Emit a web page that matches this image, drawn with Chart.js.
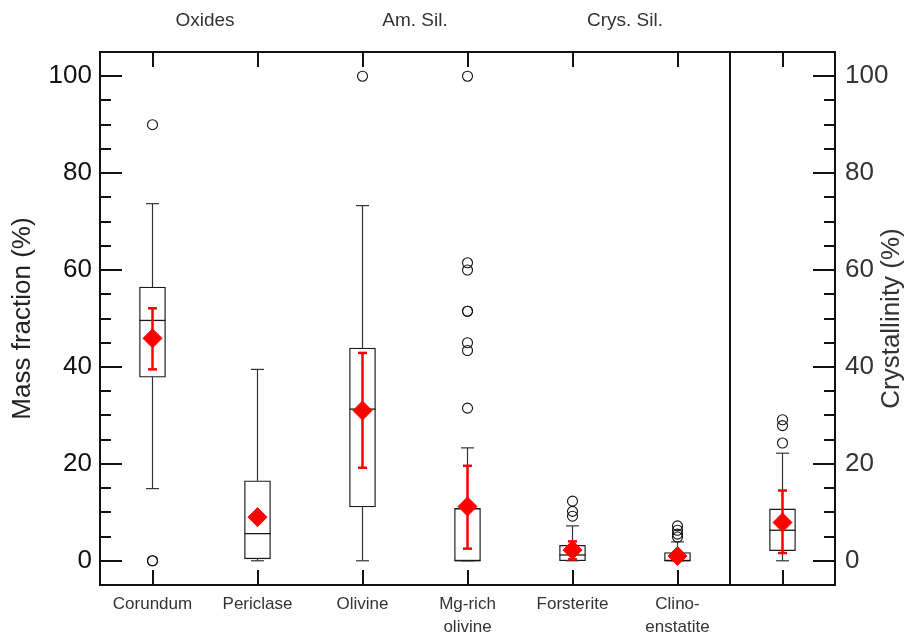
<!DOCTYPE html>
<html>
<head>
<meta charset="utf-8">
<title>Mass fraction and crystallinity</title>
<script src="https://cdn.jsdelivr.net/npm/chart.js@4"></script>
<style>
  html, body { margin: 0; padding: 0; background: #ffffff; }
  #wrap { width: 909px; height: 642px; }
</style>
</head>
<body>
<div id="wrap"><canvas id="chart" width="909" height="642"></canvas></div>
<script>
// Dust species (last slot is the crystallinity box, read on the right axis)
const categories = [['Corundum'], ['Periclase'], ['Olivine'], ['Mg-rich', 'olivine'], ['Forsterite'], ['Clino-', 'enstatite'], ['']];
const groupLabels = ['Oxides', 'Am. Sil.', 'Crys. Sil.'];
const groupCenters = [0.5, 2.5, 4.5];
const dividerAt = 5.5;

// Box-and-whisker statistics (%)
const whiskerLow  = [14.9, 0.0, 0.0, 0.0, 0.0, 0.0, 0.0];
const boxLow      = [37.9, 0.4, 11.1, 0.0, 0.0, 0.0, 2.1];
const median      = [49.6, 5.6, 31.3, 0.0, 1.2, 0.0, 6.3];
const boxHigh     = [56.5, 16.5, 43.9, 10.8, 3.2, 1.7, 10.7];
const whiskerHigh = [73.7, 39.5, 73.3, 23.3, 7.2, 3.9, 22.2];

// Mean and its uncertainty (%)
const mean    = [45.9, 9.0, 31.0, 11.2, 2.2, 1.0, 7.9];
const errLow  = [39.5, null, 19.2, 2.5, 0.3, null, 1.6];
const errHigh = [52.1, null, 42.9, 19.6, 4.0, null, 14.5];

// Outlying samples (%)
const outliers = [
  [90.0, 0.0, 0.0],
  [],
  [100.0],
  [100.0, 61.5, 60.0, 51.5, 51.5, 45.0, 43.4, 31.5],
  [12.3, 10.2, 9.2],
  [7.2, 6.3, 5.5, 4.9],
  [29.1, 27.9, 24.3]
];

const yTicks = [0, 20, 40, 60, 80, 100];
const minorStep = 5;

const FONT = "'Liberation Sans', Arial, Helvetica, sans-serif";
const RED = '#ff0000';

const slots = categories.map((_, i) => i);
const points = arr => arr.map((v, i) => (v === null ? null : { x: i, y: v })).filter(Boolean);
const spans = (lo, hi) => lo.map((v, i) => (v === null || hi[i] === null ? null : { x: i, y: [v, hi[i]] })).filter(Boolean);
const outlierPoints = outliers.flatMap((list, i) => list.map(v => ({ x: i, y: v })));

// Frame, divider, inward tick marks, group headings and axis titles
const framePlugin = {
  id: 'frame',
  afterDraw(chart) {
    const { ctx, chartArea: a, scales: { x, y } } = chart;
    ctx.save();
    ctx.strokeStyle = '#111';
    ctx.lineWidth = 2;
    ctx.lineCap = 'butt';
    ctx.strokeRect(a.left, a.top, a.right - a.left, a.bottom - a.top);

    const xd = Math.round(x.getPixelForValue(dividerAt));
    ctx.beginPath();
    ctx.moveTo(xd, a.top);
    ctx.lineTo(xd, a.bottom);
    ctx.stroke();

    ctx.beginPath();
    slots.forEach(i => {
      const px = Math.round(x.getPixelForValue(i));
      ctx.moveTo(px, a.top); ctx.lineTo(px, a.top + 15);
      ctx.moveTo(px, a.bottom); ctx.lineTo(px, a.bottom - 15);
    });
    for (let v = 0; v <= 100; v += minorStep) {
      const py = Math.round(y.getPixelForValue(v));
      const len = v % 20 === 0 ? 22 : 11;
      ctx.moveTo(a.left, py); ctx.lineTo(a.left + len, py);
      ctx.moveTo(a.right, py); ctx.lineTo(a.right - len, py);
    }
    ctx.stroke();

    ctx.fillStyle = '#333';
    ctx.font = '19px ' + FONT;
    ctx.textAlign = 'center';
    ctx.textBaseline = 'middle';
    groupLabels.forEach((t, k) => ctx.fillText(t, x.getPixelForValue(groupCenters[k]), 21));

    const cy = (a.top + a.bottom) / 2;
    ctx.font = '26px ' + FONT;
    ctx.save();
    ctx.translate(23, cy);
    ctx.rotate(-Math.PI / 2);
    ctx.fillStyle = '#222';
    ctx.fillText('Mass fraction (%)', 0, 0);
    ctx.restore();
    ctx.save();
    ctx.translate(892, cy);
    ctx.rotate(-Math.PI / 2);
    ctx.fillStyle = '#333';
    ctx.fillText('Crystallinity (%)', 0, 0);
    ctx.restore();
    ctx.restore();
  }
};

const valueAxis = (position, width, color, pad) => ({
  type: 'linear',
  position,
  min: -5,
  max: 105,
  afterBuildTicks: s => { s.ticks = yTicks.map(v => ({ value: v })); },
  afterFit: s => { s.width = width; },
  grid: { display: false, drawTicks: false },
  border: { display: false },
  ticks: { font: { family: FONT, size: 26 }, color, padding: pad }
});

new Chart(document.getElementById('chart'), {
  type: 'bar',
  data: {
    datasets: [
      { type: 'bar', label: 'whiskers', data: [...spans(whiskerLow, boxLow), ...spans(boxHigh, whiskerHigh)],
        backgroundColor: '#333', borderWidth: 0, barThickness: 1.2, grouped: false, inflateAmount: 0, order: 11 },
      { type: 'bar', label: 'boxes', data: spans(boxLow, boxHigh),
        backgroundColor: '#ffffff', borderColor: '#1a1a1a', borderWidth: 1.3, borderSkipped: false,
        barThickness: 26, grouped: false, order: 10 },
      { type: 'scatter', label: 'caps', data: [...points(whiskerLow), ...points(whiskerHigh)],
        pointStyle: 'line', pointRadius: 6.5, borderColor: '#333', borderWidth: 1.2, order: 9 },
      { type: 'scatter', label: 'median', data: points(median),
        pointStyle: 'line', pointRadius: 13, borderColor: '#1a1a1a', borderWidth: 1.3, order: 8 },
      { type: 'scatter', label: 'outliers', data: outlierPoints,
        pointStyle: 'circle', pointRadius: 5, borderColor: '#111', backgroundColor: 'rgba(0,0,0,0)', borderWidth: 1.1, order: 7 },
      { type: 'bar', label: 'error', data: spans(errLow, errHigh),
        backgroundColor: RED, borderWidth: 0, barThickness: 2.5, grouped: false, inflateAmount: 0, order: 3 },
      { type: 'scatter', label: 'error caps', data: [...points(errLow), ...points(errHigh)],
        pointStyle: 'line', pointRadius: 4.5, borderColor: RED, borderWidth: 2.5, order: 2 },
      { type: 'scatter', label: 'mean', data: points(mean),
        pointStyle: 'rectRot', pointRadius: 9.5, backgroundColor: RED, borderColor: RED, borderWidth: 1, order: 1 }
    ]
  },
  options: {
    responsive: false,
    animation: false,
    events: [],
    layout: { padding: { top: 52, left: 0, right: 0, bottom: 0 } },
    plugins: { legend: { display: false }, tooltip: { enabled: false } },
    scales: {
      x: {
        type: 'linear',
        position: 'bottom',
        offset: false,
        min: -0.5,
        max: 6.5,
        afterBuildTicks: s => { s.ticks = slots.map(v => ({ value: v })); },
        afterFit: s => { s.height = 57; },
        grid: { display: false, drawTicks: false, offset: false },
        border: { display: false },
        ticks: {
          callback: v => categories[Math.round(v)],
          font: { family: FONT, size: 17, lineHeight: 1.4 },
          color: '#333',
          padding: 7,
          maxRotation: 0,
          autoSkip: false
        }
      },
      y: valueAxis('left', 100, '#111', 8),
      y2: valueAxis('right', 74, '#333', 10)
    }
  },
  plugins: [framePlugin]
});
</script>
</body>
</html>
